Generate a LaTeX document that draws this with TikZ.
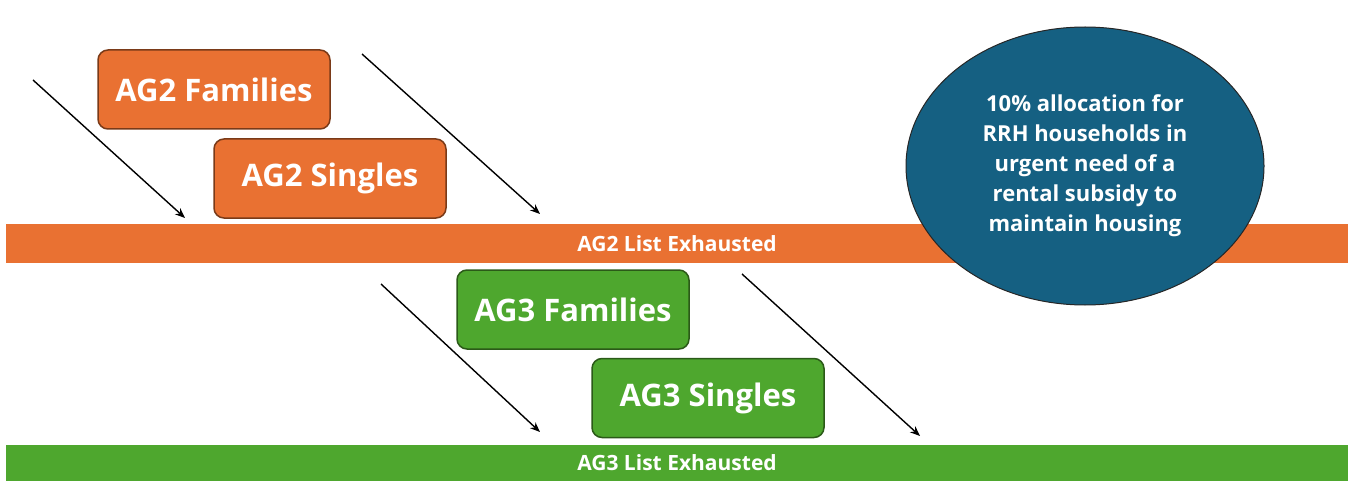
\documentclass[tikz,border=0pt]{standalone}
\usepackage{fontspec}
\setmainfont{Open Sans}
\usetikzlibrary{shapes.geometric,arrows.meta}
\definecolor{agorange}{HTML}{E97132}
\definecolor{agorangeedge}{HTML}{7A3A18}
\definecolor{aggreen}{HTML}{4EA72E}
\definecolor{aggreenedge}{HTML}{2B5A18}
\definecolor{rrhblue}{HTML}{156082}
\tikzset{
  groupbox/.style={rounded corners=10pt, line width=1.5pt, minimum width=232pt,
    minimum height=79pt, text=white, font=\fontsize{31}{36}\selectfont\bfseries,
    inner sep=0pt},
  agtwo/.style={groupbox, fill=agorange, draw=agorangeedge},
  agthree/.style={groupbox, fill=aggreen, draw=aggreenedge},
  listbar/.style={minimum width=1342pt, inner sep=0pt, text=white,
    font=\fontsize{21}{24}\selectfont\bfseries},
  flow/.style={line width=1.4pt, -{Stealth[length=10pt,width=8pt]}}
}
\begin{document}
\begin{tikzpicture}[x=1pt,y=-1pt]
  \useasboundingbox (0,0) rectangle (1348,481);
  % exhausted-list bars
  \node[listbar, fill=agorange, minimum height=39pt] (bar2) at (677,243.5) {AG2 List Exhausted};
  \node[listbar, fill=aggreen, minimum height=36pt] (bar3) at (677,463) {AG3 List Exhausted};
  % RRH set-aside
  \node[ellipse, fill=rrhblue, draw=black!85, line width=1pt, minimum width=358pt,
    minimum height=278pt, inner sep=0pt, text=white, align=center,
    font=\fontsize{22}{30}\selectfont\bfseries] (rrh) at (1085,166)
    {10\% allocation for\\RRH households in\\urgent need of a\\rental subsidy to\\maintain housing};
  % AG2 groups
  \node[agtwo] (ag2f) at (214,89.5) {AG2 Families};
  \node[agtwo] (ag2s) at (330,178.5) {AG2 Singles};
  % AG3 groups
  \node[agthree] (ag3f) at (573,309.5) {AG3 Families};
  \node[agthree] (ag3s) at (708,398) {AG3 Singles};
  % flow arrows
  \coordinate (a1s) at (33,80);   \coordinate (a1e) at (185,218);
  \coordinate (a2s) at (362,54);  \coordinate (a2e) at (540,214);
  \coordinate (a3s) at (381,284); \coordinate (a3e) at (540,432);
  \coordinate (a4s) at (742,274); \coordinate (a4e) at (920,436);
  \draw[flow] (a1s) -- (a1e);
  \draw[flow] (a2s) -- (a2e);
  \draw[flow] (a3s) -- (a3e);
  \draw[flow] (a4s) -- (a4e);
\end{tikzpicture}
\end{document}
